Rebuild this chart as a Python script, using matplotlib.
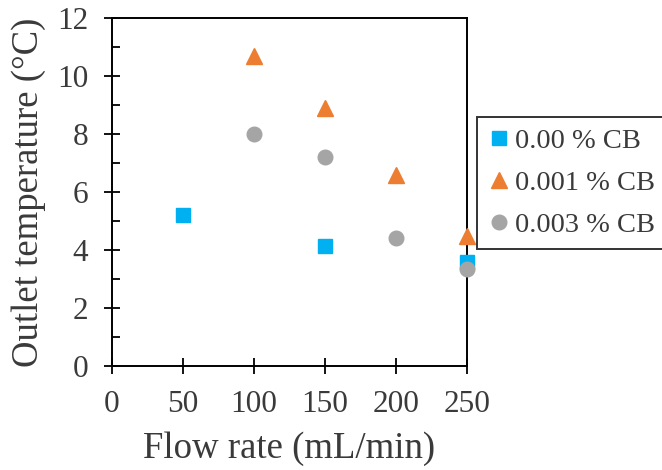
import matplotlib
matplotlib.use("Agg")
import matplotlib.pyplot as plt
from matplotlib.ticker import MultipleLocator

plt.rcParams['font.family'] = ['Liberation Serif', 'DejaVu Serif']

# Outlet temperature vs. flow rate for three carbon-black loadings
flow_plain = [50, 150, 250]
temp_plain = [5.2, 4.15, 3.6]

flow_cb001 = [100, 150, 200, 250]
temp_cb001 = [10.7, 8.9, 6.6, 4.5]

flow_cb003 = [100, 150, 200, 250]
temp_cb003 = [8.0, 7.2, 4.4, 3.35]

series_labels = ["0.00 % CB", "0.001 % CB", "0.003 % CB"]
x_ticks = [0, 50, 100, 150, 200, 250]
y_ticks = [0, 2, 4, 6, 8, 10, 12]

text_color = '#3a3a3a'

fig = plt.figure(figsize=(6.62, 4.70), dpi=100)
ax = fig.add_axes([0.169, 0.221, 0.536, 0.741])

ax.plot(flow_plain, temp_plain, linestyle='none', marker='s', ms=10.5,
        color='#00B0F0', label=series_labels[0], clip_on=False, zorder=3)
ax.plot(flow_cb001, temp_cb001, linestyle='none', marker='^', ms=11.5,
        color='#ED7D31', label=series_labels[1], clip_on=False, zorder=3)
ax.plot(flow_cb003, temp_cb003, linestyle='none', marker='o', ms=10.5,
        color='#A5A5A5', label=series_labels[2], clip_on=False, zorder=3)

ax.set_xlim(0, 250)
ax.set_ylim(0, 12)
ax.set_xticks(x_ticks)
ax.set_yticks(y_ticks)
ax.yaxis.set_minor_locator(MultipleLocator(1))

for s in ax.spines.values():
    s.set_linewidth(1.4)
    s.set_color('black')

ax.tick_params(axis='both', which='major', direction='inout', length=12,
               width=1.3, labelsize=22.5, colors='black',
               labelcolor=text_color)
ax.tick_params(axis='y', which='major', pad=11)
ax.tick_params(axis='x', which='major', pad=11)
ax.tick_params(axis='y', which='minor', direction='in', length=6, width=1.3)

ax.set_xlabel("Flow rate (mL/min)", fontsize=26.5, color=text_color, labelpad=9)
ax.set_ylabel("Outlet temperature (°C)", fontsize=26.5, color=text_color, labelpad=8)

leg = ax.legend(loc='upper left', bbox_to_anchor=(0.7205, 0.751),
                bbox_transform=fig.transFigure, fontsize=20.5,
                frameon=True, fancybox=False, edgecolor='black',
                handlelength=0.75, handletextpad=0.2, borderpad=0.4,
                labelspacing=0.55, borderaxespad=0)
leg.get_frame().set_linewidth(1.4)
for t in leg.get_texts():
    t.set_color(text_color)

fig.savefig("out.png", dpi=100)
